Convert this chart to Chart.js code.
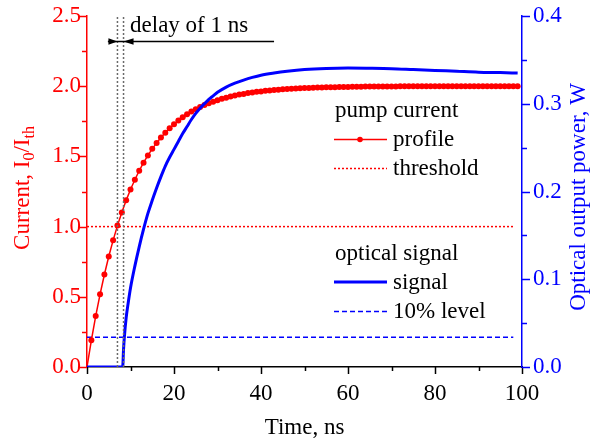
<!DOCTYPE html>
<html>
<head>
<meta charset="utf-8">
<script src="https://cdn.jsdelivr.net/npm/chart.js@4.4.1/dist/chart.umd.min.js"></script>
<style>
  html, body { margin: 0; padding: 0; background: #ffffff; }
  canvas { display: block; }
</style>
</head>
<body>
<canvas id="chart" width="593" height="438"></canvas>
<script>
// Pump current profile, sampled every nanosecond (normalised to threshold)
const timeNs = [
  0, 1, 2, 3, 4, 5, 6, 7, 8, 9, 10, 11, 12, 13, 14, 15, 16, 17, 18, 19,
  20, 21, 22, 23, 24, 25, 26, 27, 28, 29, 30, 31, 32, 33, 34, 35, 36, 37, 38, 39,
  40, 41, 42, 43, 44, 45, 46, 47, 48, 49, 50, 51, 52, 53, 54, 55, 56, 57, 58, 59,
  60, 61, 62, 63, 64, 65, 66, 67, 68, 69, 70, 71, 72, 73, 74, 75, 76, 77, 78, 79,
  80, 81, 82, 83, 84, 85, 86, 87, 88, 89, 90, 91, 92, 93, 94, 95, 96, 97, 98, 99
];
const pumpCurrent = [
  0.000, 0.190, 0.363, 0.518, 0.659, 0.787, 0.902, 1.007, 1.101, 1.187,
  1.264, 1.334, 1.398, 1.455, 1.507, 1.554, 1.596, 1.635, 1.669, 1.701,
  1.729, 1.755, 1.778, 1.800, 1.819, 1.836, 1.851, 1.866, 1.878, 1.890,
  1.900, 1.910, 1.918, 1.926, 1.933, 1.940, 1.945, 1.951, 1.955, 1.960,
  1.963, 1.967, 1.970, 1.973, 1.975, 1.978, 1.980, 1.982, 1.984, 1.985,
  1.987, 1.988, 1.989, 1.990, 1.991, 1.992, 1.993, 1.993, 1.994, 1.995,
  1.995, 1.996, 1.996, 1.996, 1.997, 1.997, 1.997, 1.998, 1.998, 1.998,
  1.998, 1.998, 1.999, 1.999, 1.999, 1.999, 1.999, 1.999, 1.999, 1.999,
  1.999, 1.999, 1.999, 1.999, 1.999, 2.000, 2.000, 2.000, 2.000, 2.000,
  2.000, 2.000, 2.000, 2.000, 2.000, 2.000, 2.000, 2.000, 2.000, 2.000
];

// Lasing threshold of the pump current
const thresholdTime = [0, 98];
const thresholdLevel = [1.0, 1.0];

// Optical output power of the laser
const signalTime = [
  0, 8.2, 8.4, 8.6, 9.0, 9.5, 10, 11, 12, 13, 14, 15, 16, 17, 18, 19, 20,
  21, 22, 23, 24, 25, 26, 27, 28, 29, 30, 32, 34, 36, 38, 40, 43, 46, 50,
  55, 60, 65, 70, 75, 80, 85, 90, 95, 99
];
const signalPower = [
  0, 0, 0.020, 0.035, 0.056, 0.074, 0.090, 0.115, 0.137, 0.157, 0.175, 0.190,
  0.204, 0.217, 0.229, 0.239, 0.248, 0.257, 0.266, 0.274, 0.282, 0.289, 0.295,
  0.300, 0.305, 0.309, 0.313, 0.319, 0.3235, 0.327, 0.330, 0.3325, 0.335,
  0.337, 0.339, 0.3403, 0.3408, 0.3405, 0.340, 0.339, 0.338, 0.337, 0.336,
  0.3355, 0.335
];

// 10 % of the steady-state optical power
const levelTime = [0, 98];
const levelPower = [0.034, 0.034];

// Threshold crossing and start of emission (the 1 ns delay)
const delayMarks = [7.0, 8.4];

// Axis ticks
const timeTicks = [0, 20, 40, 60, 80, 100];
const timeMinor = [10, 30, 50, 70, 90];
const currentTicks = [0, 0.5, 1.0, 1.5, 2.0, 2.5];
const currentMinor = [0.25, 0.75, 1.25, 1.75, 2.25];
const powerTicks = [0, 0.1, 0.2, 0.3, 0.4];
const powerMinor = [0.05, 0.15, 0.25, 0.35];

const SERIF = "'Liberation Serif', 'Times New Roman', serif";
const RED = '#ff0000';
const BLUE = '#0000ff';
const GREY = '#6a6a6a';
const FS = 23;

const zip = (xs, ys) => xs.map((v, i) => ({ x: v, y: ys[i] }));

// Vertical marker lines spanning the full current axis
const markerSets = delayMarks.map(t => ({
  data: [{ x: t, y: 0 }, { x: t, y: 2.5 }],
  yAxisID: 'y',
  borderColor: GREY,
  borderWidth: 1.5,
  borderDash: [2, 2],
  pointRadius: 0,
  order: 0
}));

// Tick marks, axis titles, the delay annotation and the grouped legend
const decor = {
  id: 'decor',
  afterDraw(chart) {
    const { ctx, chartArea: a, scales } = chart;
    const x = scales.x, y = scales.y, y2 = scales.y2;
    ctx.save();

    // tick marks (outside the plot)
    ctx.lineWidth = 1.5;
    const hTicks = (vals, len) => {
      ctx.strokeStyle = '#000';
      vals.forEach(v => {
        const px = Math.round(x.getPixelForValue(v)) + 0.5;
        ctx.beginPath(); ctx.moveTo(px, a.bottom); ctx.lineTo(px, a.bottom + len); ctx.stroke();
      });
    };
    const vTicks = (scale, vals, len, color, xEdge, dir) => {
      ctx.strokeStyle = color;
      vals.forEach(v => {
        const py = Math.round(scale.getPixelForValue(v)) + 0.5;
        ctx.beginPath(); ctx.moveTo(xEdge, py); ctx.lineTo(xEdge + dir * len, py); ctx.stroke();
      });
    };
    hTicks(timeTicks, 7); hTicks(timeMinor, 4);
    vTicks(y, currentTicks, 8, RED, a.left, -1); vTicks(y, currentMinor, 5, RED, a.left, -1);
    vTicks(y2, powerTicks, 8, BLUE, a.right, 1); vTicks(y2, powerMinor, 5, BLUE, a.right, 1);

    // x-axis title
    ctx.font = FS + 'px ' + SERIF;
    ctx.fillStyle = '#000';
    ctx.textAlign = 'center';
    ctx.textBaseline = 'alphabetic';
    ctx.fillText('Time, ns', (a.left + a.right) / 2, 434);

    // left axis title with subscripts
    ctx.save();
    ctx.translate(29, 188);
    ctx.rotate(-Math.PI / 2);
    ctx.fillStyle = RED;
    const parts = [['Current, I', FS, 0], ['0', 16, 5], ['/I', FS, 0], ['th', 16, 5]];
    let total = 0;
    parts.forEach(p => { ctx.font = p[1] + 'px ' + SERIF; total += ctx.measureText(p[0]).width; });
    let cx = -total / 2;
    ctx.textAlign = 'left';
    parts.forEach(p => {
      ctx.font = p[1] + 'px ' + SERIF;
      ctx.fillText(p[0], cx, p[2]);
      cx += ctx.measureText(p[0]).width;
    });
    ctx.restore();

    // right axis title
    ctx.save();
    ctx.translate(585, 197);
    ctx.rotate(-Math.PI / 2);
    ctx.font = FS + 'px ' + SERIF;
    ctx.fillStyle = BLUE;
    ctx.textAlign = 'center';
    ctx.fillText('Optical output power, W', 0, 0);
    ctx.restore();

    // delay annotation: arrow and text
    const ay = Math.round(y.getPixelForValue(2.32)) + 0.5;
    const t0 = x.getPixelForValue(delayMarks[0]);
    const t1 = x.getPixelForValue(delayMarks[1]);
    ctx.strokeStyle = '#000';
    ctx.fillStyle = '#000';
    ctx.lineWidth = 1.5;
    ctx.beginPath();
    ctx.moveTo(x.getPixelForValue(4.8), ay);
    ctx.lineTo(x.getPixelForValue(43), ay);
    ctx.stroke();
    ctx.beginPath();
    ctx.moveTo(t0, ay); ctx.lineTo(t0 - 9, ay - 3.2); ctx.lineTo(t0 - 9, ay + 3.2); ctx.closePath(); ctx.fill();
    ctx.beginPath();
    ctx.moveTo(t1, ay); ctx.lineTo(t1 + 10, ay - 3.2); ctx.lineTo(t1 + 10, ay + 3.2); ctx.closePath(); ctx.fill();
    ctx.font = FS + 'px ' + SERIF;
    ctx.textAlign = 'left';
    ctx.textBaseline = 'alphabetic';
    ctx.fillText('delay of 1 ns', x.getPixelForValue(9.9), y.getPixelForValue(2.385));

    // grouped legend
    const lx0 = 334, lx1 = 387, tx = 393;
    ctx.textBaseline = 'middle';
    ctx.fillStyle = '#000';
    ctx.fillText('pump current', 335, 111);
    ctx.fillText('profile', tx, 140);
    ctx.fillText('threshold', tx, 169);
    ctx.fillText('optical signal', 335, 254);
    ctx.fillText('signal', tx, 283);
    ctx.fillText('10% level', tx, 312);

    const seg = (yy, color, width, dash) => {
      ctx.strokeStyle = color; ctx.lineWidth = width; ctx.setLineDash(dash);
      ctx.beginPath(); ctx.moveTo(lx0, yy); ctx.lineTo(lx1, yy); ctx.stroke();
      ctx.setLineDash([]);
    };
    seg(139.5, RED, 1.5, []);
    ctx.fillStyle = RED;
    ctx.beginPath(); ctx.arc(360, 139.5, 2.8, 0, Math.PI * 2); ctx.fill();
    seg(168.5, RED, 1.5, [2, 2]);
    seg(282, BLUE, 3, []);
    seg(311.5, BLUE, 1.5, [5, 3]);

    ctx.restore();
  }
};

const tickFont = { family: SERIF, size: FS };
const noGrid = { display: false, drawTicks: false, tickLength: 0 };
// vertical axes: fixed width, no extra room reserved for the end labels
const fitVertical = w => s => { s.width = w; s.paddingTop = 0; s.paddingBottom = 0; };

new Chart(document.getElementById('chart'), {
  type: 'line',
  data: {
    datasets: [
      ...markerSets,
      {
        label: 'profile',
        data: zip(timeNs, pumpCurrent),
        yAxisID: 'y',
        borderColor: RED,
        backgroundColor: RED,
        borderWidth: 1.5,
        pointRadius: ctx => (ctx.dataIndex === 0 ? 0 : 3),
        pointBorderWidth: 0,
        pointBackgroundColor: RED,
        tension: 0,
        order: 2
      },
      {
        label: 'threshold',
        data: zip(thresholdTime, thresholdLevel),
        yAxisID: 'y',
        borderColor: RED,
        borderWidth: 1.5,
        borderDash: [2, 2],
        pointRadius: 0,
        order: 3
      },
      {
        label: 'signal',
        data: zip(signalTime, signalPower),
        yAxisID: 'y2',
        borderColor: BLUE,
        borderWidth: 3,
        pointRadius: 0,
        cubicInterpolationMode: 'monotone',
        order: 1
      },
      {
        label: '10% level',
        data: zip(levelTime, levelPower),
        yAxisID: 'y2',
        borderColor: BLUE,
        borderWidth: 1.5,
        borderDash: [5, 3],
        pointRadius: 0,
        order: 3
      }
    ]
  },
  options: {
    responsive: false,
    animation: false,
    devicePixelRatio: 1,
    layout: { padding: { top: 16, left: 0, right: 0, bottom: 0 } },
    plugins: { legend: { display: false }, tooltip: { enabled: false } },
    scales: {
      x: {
        type: 'linear',
        position: 'bottom',
        min: 0, max: 100,
        afterBuildTicks: s => { s.ticks = timeTicks.map(v => ({ value: v })); },
        afterFit: s => { s.height = 71; s.paddingLeft = 0; s.paddingRight = 0; },
        grid: noGrid,
        border: { display: true, color: '#000', width: 1.5 },
        ticks: { color: '#000', padding: 13, maxRotation: 0, font: tickFont }
      },
      y: {
        type: 'linear',
        position: 'left',
        min: 0, max: 2.5,
        afterBuildTicks: s => { s.ticks = currentTicks.map(v => ({ value: v })); },
        afterFit: fitVertical(87),
        grid: noGrid,
        border: { display: true, color: RED, width: 1.5 },
        ticks: { color: RED, padding: 6, callback: v => v.toFixed(1), font: tickFont }
      },
      y2: {
        type: 'linear',
        position: 'right',
        min: 0, max: 0.4,
        afterBuildTicks: s => { s.ticks = powerTicks.map(v => ({ value: v })); },
        afterFit: fitVertical(71),
        grid: noGrid,
        border: { display: true, color: BLUE, width: 1.5 },
        ticks: { color: BLUE, padding: 11, callback: v => v.toFixed(1), font: tickFont }
      }
    }
  },
  plugins: [decor]
});
</script>
</body>
</html>
